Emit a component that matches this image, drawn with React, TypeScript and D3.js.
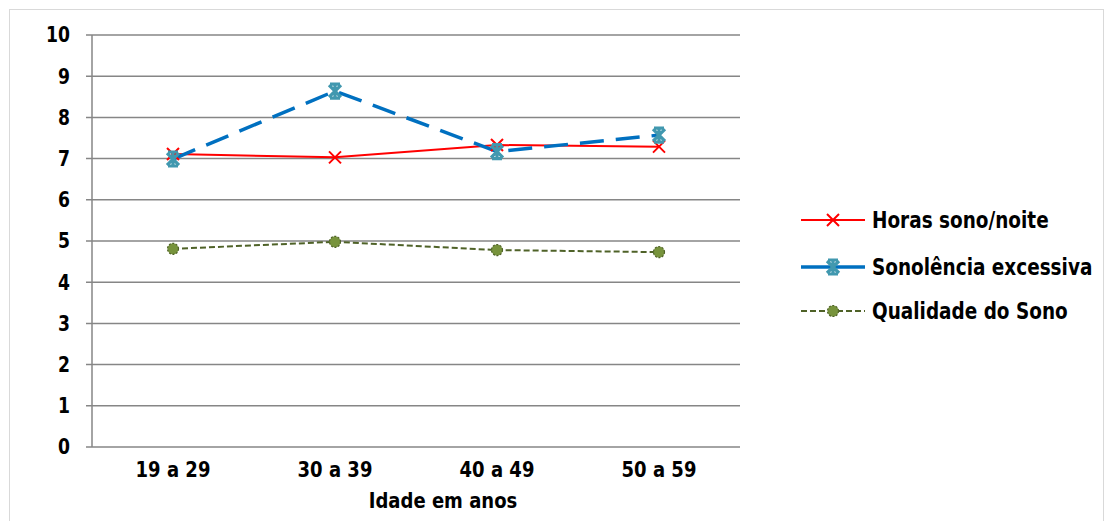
import React from "react";
import * as d3 from "d3";

const categories = ["19 a 29", "30 a 39", "40 a 49", "50 a 59"];
const horasSono = [7.11, 7.03, 7.33, 7.29];
const sonolencia = [6.99, 8.64, 7.17, 7.57];
const qualidade = [4.81, 4.98, 4.78, 4.73];
const yTicks = [0, 1, 2, 3, 4, 5, 6, 7, 8, 9, 10];
const seriesNames = ["Horas sono/noite", "Sonolência excessiva", "Qualidade do Sono"];
const xTitle = "Idade em anos";

const W = 1106, H = 521;
const left = 92, right = 740, top = 35, bottom = 447;
const FONT = "'Liberation Sans Narrow', 'Arial Narrow', 'DejaVu Sans', sans-serif";

const x = d3.scaleBand<string>().domain(categories).range([left, right]);
const y = d3.scaleLinear().domain([0, 10]).range([bottom, top]);
const cx = (c: string) => (x(c) as number) + x.bandwidth() / 2;

const lineGen = d3.line<[number, number]>().x((d) => d[0]).y((d) => d[1]);
const pts = (vals: number[]) => vals.map((v, i) => [cx(categories[i]), y(v)] as [number, number]);

const XMark = ({ px, py, color }: { px: number; py: number; color: string }) => (
  <path d={`M${px - 6},${py - 6}L${px + 6},${py + 6}M${px - 6},${py + 6}L${px + 6},${py - 6}`} stroke={color} strokeWidth={2} fill="none" />
);
const StarMark = ({ px, py }: { px: number; py: number }) => (
  <path d={`M${px - 6},${py - 6}L${px + 6},${py + 6}M${px - 6},${py + 6}L${px + 6},${py - 6}M${px - 5},${py - 7}L${px + 5},${py - 7}M${px - 5},${py + 7}L${px + 5},${py + 7}M${px},${py - 7}L${px},${py + 7}`} stroke="#4198AF" strokeWidth={3.2} fill="none" />
);
const Dot = ({ px, py }: { px: number; py: number }) => (
  <circle cx={px} cy={py} r={5.5} fill="#77933C" stroke="#4F6228" strokeWidth={1.2} strokeDasharray="2,1.5" />
);

// Condensed text helper: scale horizontally to mimic a narrow bold font
const T = ({ x0, y0, anchor, size, children, sx = 0.82 }: { x0: number; y0: number; anchor: "start" | "middle" | "end"; size: number; children: React.ReactNode; sx?: number }) => (
  <text transform={`translate(${x0},${y0}) scale(${sx},1)`} textAnchor={anchor} fontSize={size} fontWeight="bold" fill="#000" dy="0.35em">{children}</text>
);

export default function App() {
  const p1 = pts(horasSono), p2 = pts(sonolencia), p3 = pts(qualidade);
  const legY = [220, 267, 311];
  return (
    <svg width={W} height={H} style={{ display: "block", position: "absolute", left: 0, top: 0 }} fontFamily={FONT}>
      <rect x={0} y={0} width={W} height={H} fill="#fff" />
      <rect x={9.5} y={9.5} width={W - 12} height={H - 6} fill="none" stroke="#D9D9D9" strokeWidth={1} />
      {yTicks.map((t) => (
        <g key={t}>
          <line x1={left - 6} x2={right} y1={y(t)} y2={y(t)} stroke="#868686" strokeWidth={1.5} />
          <T x0={70} y0={y(t)} anchor="end" size={21}>{t}</T>
        </g>
      ))}
      <line x1={left} x2={left} y1={top} y2={bottom} stroke="#868686" strokeWidth={1.5} />
      {categories.map((c) => (
        <T key={c} x0={cx(c)} y0={469} anchor="middle" size={22}>{c}</T>
      ))}
      <T x0={443} y0={500} anchor="middle" size={22}>{xTitle}</T>

      <path d={lineGen(p3) || ""} fill="none" stroke="#4F6228" strokeWidth={2} strokeDasharray="6,3" />
      <path d={lineGen(p1) || ""} fill="none" stroke="#FF0000" strokeWidth={2} />
      <path d={lineGen(p2) || ""} fill="none" stroke="#0070C0" strokeWidth={3.5} strokeDasharray="24,12" />
      {p3.map((p, i) => <Dot key={i} px={p[0]} py={p[1]} />)}
      {p1.map((p, i) => <XMark key={i} px={p[0]} py={p[1]} color="#FF0000" />)}
      {p2.map((p, i) => <StarMark key={i} px={p[0]} py={p[1]} />)}

      <g>
        <line x1={801} x2={865} y1={legY[0]} y2={legY[0]} stroke="#FF0000" strokeWidth={2} />
        <XMark px={833} py={legY[0]} color="#FF0000" />
        <line x1={801} x2={865} y1={legY[1]} y2={legY[1]} stroke="#0070C0" strokeWidth={3.5} />
        <StarMark px={833} py={legY[1]} />
        <line x1={801} x2={865} y1={legY[2]} y2={legY[2]} stroke="#4F6228" strokeWidth={2} strokeDasharray="6,3" />
        <Dot px={833} py={legY[2]} />
        {seriesNames.map((n, i) => (
          <T key={n} x0={872} y0={legY[i]} anchor="start" size={22.5}>{n}</T>
        ))}
      </g>
    </svg>
  );
}
